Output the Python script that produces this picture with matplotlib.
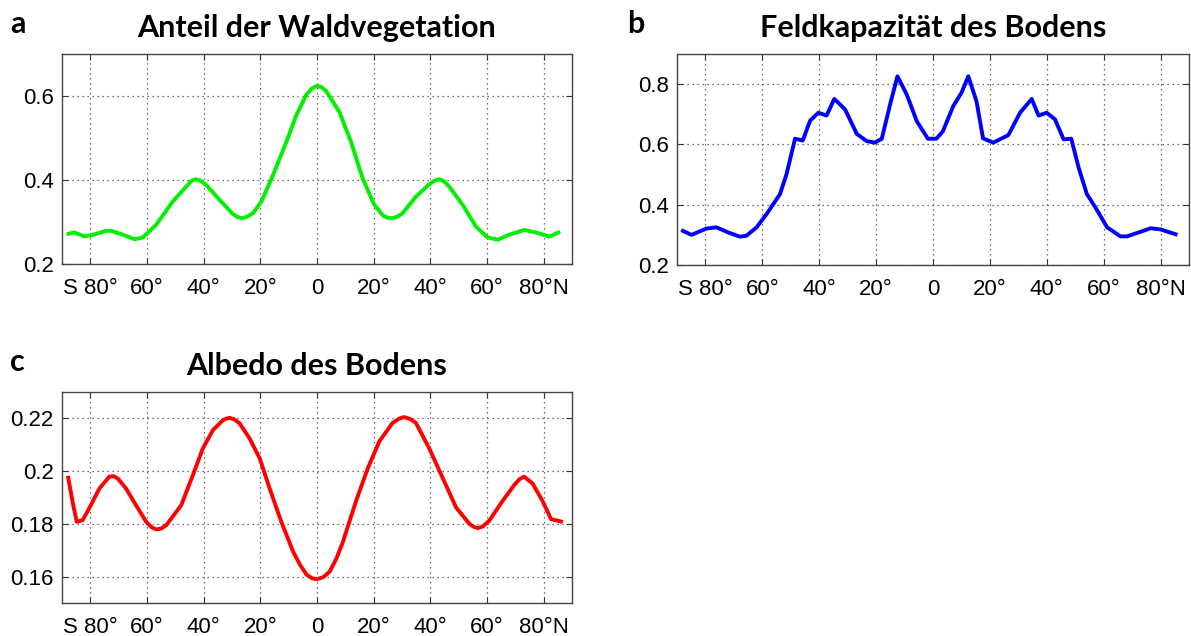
import matplotlib
matplotlib.use("Agg")
import matplotlib.pyplot as plt

# Breitengrade (S negativ, N positiv) und Werte
lat_a = [-87.7, -85.7, -82.1, -79.8, -74.5, -72.7, -68.6, -64.4, -61.5, -56.8,
         -50.9, -46.2, -44.5, -42.9, -41.0, -39.1, -34.4, -29.7, -28.0, -26.4,
         -24.5, -22.6, -19.6, -15.5, -10.8, -7.3, -3.7, -1.8, 0.0, 1.6,
         3.2, 7.9, 12.0, 16.1, 20.2, 23.4, 25.0, 26.7, 28.5, 30.2,
         34.9, 39.6, 41.4, 43.2, 45.0, 46.7, 51.4, 56.1, 60.2, 63.8,
         67.9, 73.2, 77.3, 80.8, 82.0, 85.2]
wald = [0.272, 0.275, 0.266, 0.268, 0.279, 0.279, 0.270, 0.259, 0.263, 0.293,
        0.349, 0.384, 0.397, 0.402, 0.398, 0.388, 0.353, 0.319, 0.312, 0.309,
        0.313, 0.321, 0.349, 0.412, 0.491, 0.554, 0.604, 0.618, 0.624, 0.621,
        0.612, 0.562, 0.491, 0.404, 0.341, 0.315, 0.310, 0.309, 0.313, 0.321,
        0.360, 0.390, 0.398, 0.402, 0.396, 0.384, 0.341, 0.289, 0.263, 0.258,
        0.270, 0.281, 0.275, 0.268, 0.265, 0.275]

lat_b = [-87.9, -84.9, -79.6, -76.1, -72.0, -67.9, -65.6, -62.0, -58.5, -53.8,
         -51.5, -48.5, -45.8, -43.2, -40.3, -37.4, -34.7, -30.9, -26.8, -23.3,
         -20.4, -18.0, -15.1, -12.5, -9.2, -5.7, -1.8, 1.2, 3.5, 7.1,
         10.0, 12.4, 15.3, 17.6, 21.2, 26.5, 30.6, 34.7, 37.1, 40.0,
         42.9, 45.9, 48.6, 51.2, 54.1, 57.1, 61.2, 65.9, 68.2, 72.9,
         76.5, 80.0, 85.3]
feldkap = [0.313, 0.300, 0.321, 0.325, 0.308, 0.294, 0.297, 0.325, 0.369, 0.435,
           0.501, 0.619, 0.613, 0.679, 0.705, 0.696, 0.751, 0.716, 0.635, 0.611,
           0.606, 0.619, 0.732, 0.826, 0.765, 0.677, 0.619, 0.619, 0.644, 0.727,
           0.771, 0.826, 0.743, 0.620, 0.606, 0.631, 0.705, 0.751, 0.696, 0.705,
           0.683, 0.617, 0.619, 0.523, 0.435, 0.391, 0.325, 0.295, 0.295, 0.310,
           0.322, 0.318, 0.302]

lat_c = [-87.8, -86.2, -84.8, -82.7, -79.8, -76.8, -73.3, -71.8, -70.3, -67.4,
         -63.9, -60.3, -58.5, -56.8, -55.0, -53.2, -47.9, -43.8, -40.3, -36.7,
         -33.2, -32.0, -30.8, -29.3, -27.3, -23.8, -20.2, -16.7, -12.6, -8.4,
         -6.0, -3.7, -1.8, 0.0, 2.2, 4.4, 6.7, 9.1, 13.8, 17.9,
         22.0, 26.7, 29.0, 30.8, 32.8, 34.9, 39.6, 44.4, 49.1, 53.8,
         55.3, 56.7, 58.5, 60.8, 65.5, 69.6, 71.5, 73.1, 76.1, 79.6,
         82.6, 86.1]
albedo = [0.1975, 0.1880, 0.1808, 0.1814, 0.1871, 0.1934, 0.1979, 0.1981, 0.1972, 0.1934,
          0.1871, 0.1808, 0.1788, 0.1779, 0.1782, 0.1795, 0.1871, 0.1985, 0.2086, 0.2156,
          0.2193, 0.2199, 0.2202, 0.2197, 0.2181, 0.2124, 0.2048, 0.1934, 0.1808, 0.1694,
          0.1645, 0.1608, 0.1594, 0.1590, 0.1598, 0.1618, 0.1665, 0.1730, 0.1887, 0.2010,
          0.2113, 0.2183, 0.2199, 0.2205, 0.2198, 0.2183, 0.2087, 0.1973, 0.1862, 0.1800,
          0.1789, 0.1784, 0.1790, 0.1812, 0.1887, 0.1947, 0.1970, 0.1979, 0.1953, 0.1887,
          0.1818, 0.1809]

xticks = [-80, -60, -40, -20, 0, 20, 40, 60, 80]
xlabels = ['S 80°', '60°', '40°', '20°', '0', '20°', '40°', '60°', '80°N']

W, H = 1191, 636
fig = plt.figure(figsize=(W / 100, H / 100), dpi=100)

tick_font = 'Liberation Sans'
title_font = 'Lato'


def make_ax(left, top, right, bottom):
    return fig.add_axes([left / W, 1 - bottom / H, (right - left) / W, (bottom - top) / H])


def style(ax, x, y, color, ylim, yticks, ylabels, title, letter, letter_x):
    ax.plot(x, y, color=color, lw=2.8, solid_joinstyle='round')
    ax.set_xlim(-90, 90)
    ax.set_ylim(*ylim)
    ax.set_xticks(xticks)
    ax.set_xticklabels(xlabels, fontfamily=tick_font, fontsize=16)
    ax.set_yticks(yticks)
    ax.set_yticklabels(ylabels, fontfamily=tick_font, fontsize=16)
    ax.tick_params(direction='in', top=True, right=True, length=4, width=0.8,
                   color='#333333')
    ax.tick_params(axis='x', pad=10)
    ax.tick_params(axis='y', pad=6)
    ax.grid(True, linestyle=(0, (1, 3)), color='#444444', lw=0.9)
    for s in ax.spines.values():
        s.set_color('#444444')
        s.set_linewidth(1.0)
    ax.set_title(title, fontfamily=title_font, fontweight='bold', fontsize=22, pad=12)
    ax.text(letter_x, 1.1, letter, transform=ax.transAxes, fontfamily=title_font,
            fontweight='bold', fontsize=22, va='baseline', ha='left')


ax_a = make_ax(62, 54, 572, 264)
style(ax_a, lat_a, wald, '#00f000', (0.2, 0.7), [0.2, 0.4, 0.6], ['0.2', '0.4', '0.6'],
      'Anteil der Waldvegetation', 'a', -0.102)

ax_b = make_ax(677, 54, 1189, 265)
style(ax_b, lat_b, feldkap, '#0000ff', (0.2, 0.9), [0.2, 0.4, 0.6, 0.8],
      ['0.2', '0.4', '0.6', '0.8'], 'Feldkapazität des Bodens', 'b', -0.098)

ax_c = make_ax(62, 392, 572, 603)
style(ax_c, lat_c, albedo, '#ff0000', (0.15, 0.23), [0.16, 0.18, 0.2, 0.22],
      ['0.16', '0.18', '0.2', '0.22'], 'Albedo des Bodens', 'c', -0.102)

fig.savefig('out.png', dpi=100)
